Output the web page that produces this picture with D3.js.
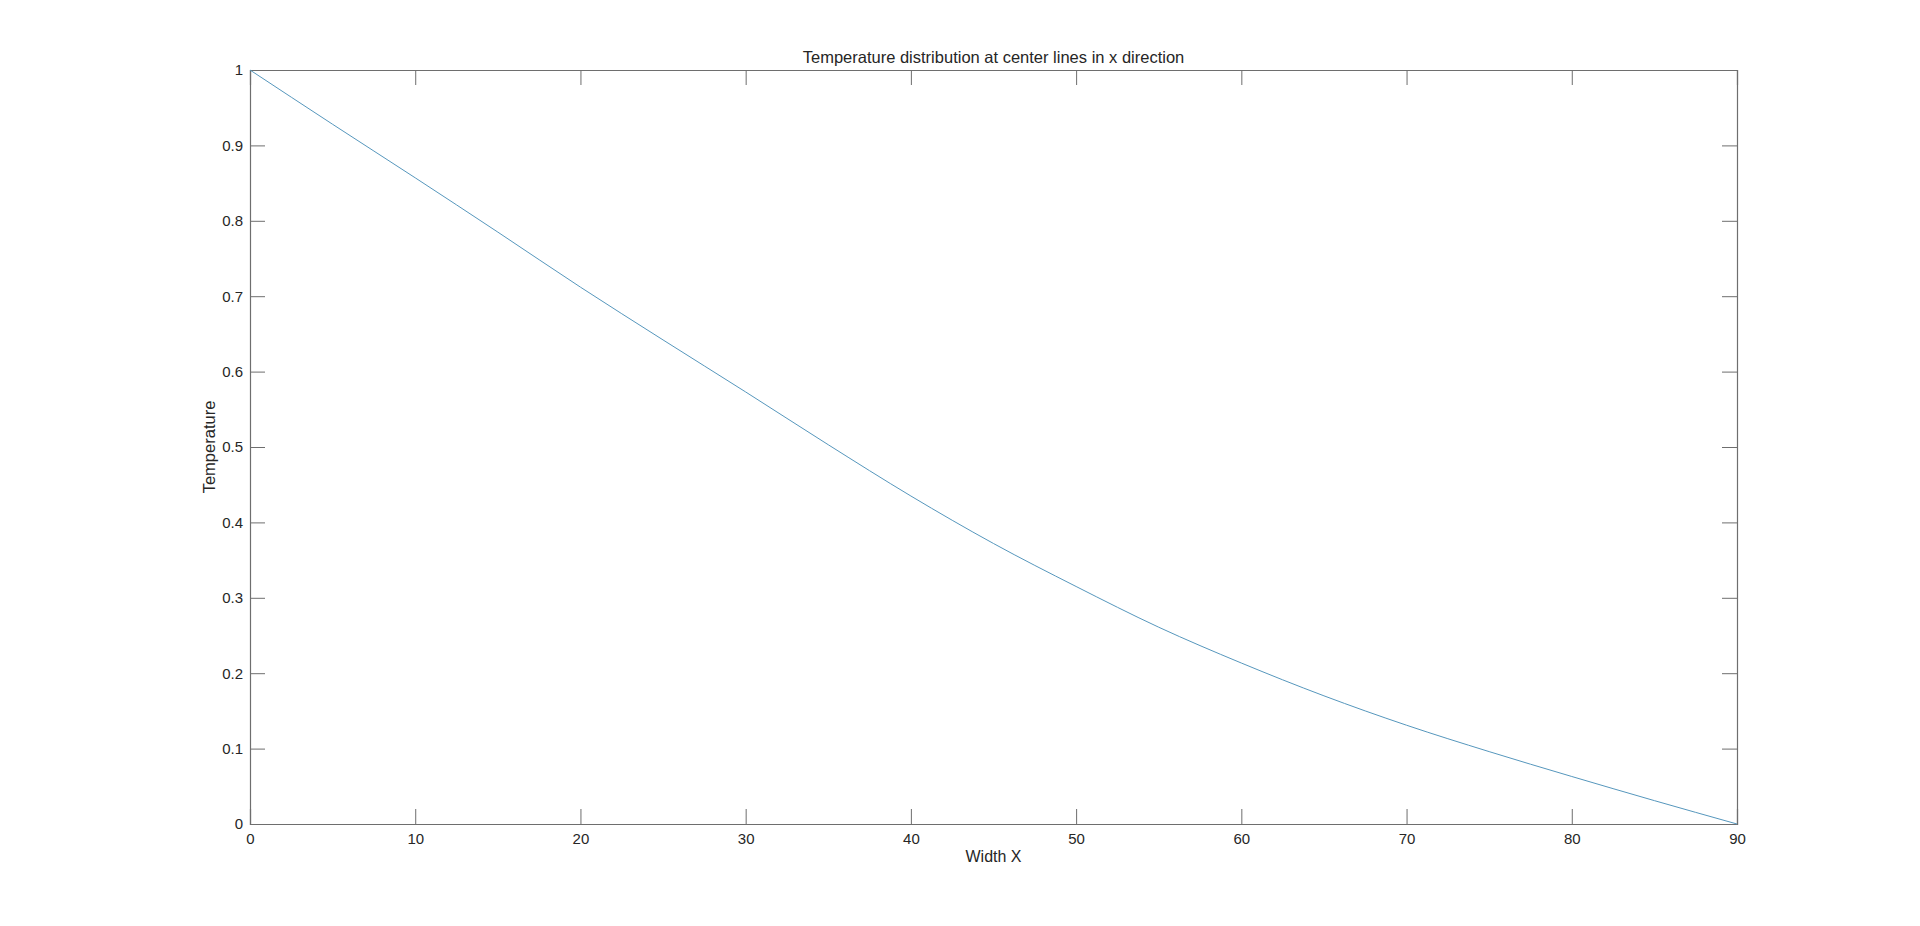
<!DOCTYPE html>
<html>
<head>
<meta charset="utf-8">
<script src="https://cdn.jsdelivr.net/npm/d3@7"></script>
<style>
  body { margin: 0; background: #ffffff; }
  svg text { font-family: "Liberation Sans", Arial, Helvetica, sans-serif; fill: #262626; }
</style>
</head>
<body>
<div id="chart"></div>
<script>
var w = 1920, h = 926;
var pad = {top: 70, bottom: 102, left: 250, right: 183};

//Values
var widthX = [0, 5, 10, 15, 20, 25, 30, 35, 40, 45, 50, 55, 60, 65, 70, 75, 80, 85, 90];
var temperature = [1, 0.928, 0.857, 0.785, 0.712, 0.642, 0.573, 0.503, 0.435, 0.372, 0.315, 0.261, 0.2135, 0.17, 0.131, 0.096, 0.063, 0.031, 0];

//Tick values
var xTicks = [0, 10, 20, 30, 40, 50, 60, 70, 80, 90];
var yTicks = [0, 0.1, 0.2, 0.3, 0.4, 0.5, 0.6, 0.7, 0.8, 0.9, 1];

var axisColor = "#6e6e6e";
var lineColor = "#5697bd";

var svg = d3.select("#chart")
            .append("svg")
            .attr("width", w)
            .attr("height", h);

var xScale = d3.scaleLinear().domain([0, 90]).range([pad.left, w - pad.right]);
var yScale = d3.scaleLinear().domain([0, 1]).range([h - pad.bottom, pad.top]);

var tickLen = 15;
var fmt = function(d) { return d3.format("")(+d.toFixed(2)); };

//Axes with inward ticks on all four sides
var xBottom = svg.append("g")
   .attr("transform", "translate(0," + (h - pad.bottom) + ")")
   .call(d3.axisBottom(xScale).tickValues(xTicks).tickSize(-tickLen).tickPadding(9).tickFormat(fmt));
var xTop = svg.append("g")
   .attr("transform", "translate(0," + pad.top + ")")
   .call(d3.axisTop(xScale).tickValues(xTicks).tickSize(-tickLen).tickFormat(""));
var yLeft = svg.append("g")
   .attr("transform", "translate(" + pad.left + ",0)")
   .call(d3.axisLeft(yScale).tickValues(yTicks).tickSize(-tickLen).tickPadding(7).tickFormat(fmt));
var yRight = svg.append("g")
   .attr("transform", "translate(" + (w - pad.right) + ",0)")
   .call(d3.axisRight(yScale).tickValues(yTicks).tickSize(-tickLen).tickFormat(""));

[xBottom, xTop, yLeft, yRight].forEach(function(g) {
    g.selectAll("path.domain").attr("stroke", axisColor).attr("stroke-width", 1.2);
    g.selectAll(".tick line").attr("stroke", axisColor).attr("stroke-width", 1);
    g.selectAll(".tick text").style("font-size", "15px").attr("fill", "#262626");
});
xBottom.selectAll(".tick text").attr("dy", "0.71em");

//Curve
var line = d3.line()
             .x(function(d, i) { return xScale(widthX[i]); })
             .y(function(d) { return yScale(d); })
             .curve(d3.curveMonotoneX);
svg.append("path")
   .datum(temperature)
   .attr("d", line)
   .attr("fill", "none")
   .attr("stroke", lineColor)
   .attr("stroke-width", 1);

//Title and axis labels
var cx = (pad.left + w - pad.right) / 2;
svg.append("text")
   .attr("x", cx)
   .attr("y", 63)
   .attr("text-anchor", "middle")
   .style("font-size", "16.5px")
   .text("Temperature distribution at center lines in x direction");
svg.append("text")
   .attr("x", cx)
   .attr("y", 862)
   .attr("text-anchor", "middle")
   .style("font-size", "16px")
   .text("Width X");
svg.append("text")
   .attr("transform", "translate(215," + ((pad.top + h - pad.bottom) / 2) + ") rotate(-90)")
   .attr("text-anchor", "middle")
   .style("font-size", "16.5px")
   .text("Temperature");
</script>
</body>
</html>
